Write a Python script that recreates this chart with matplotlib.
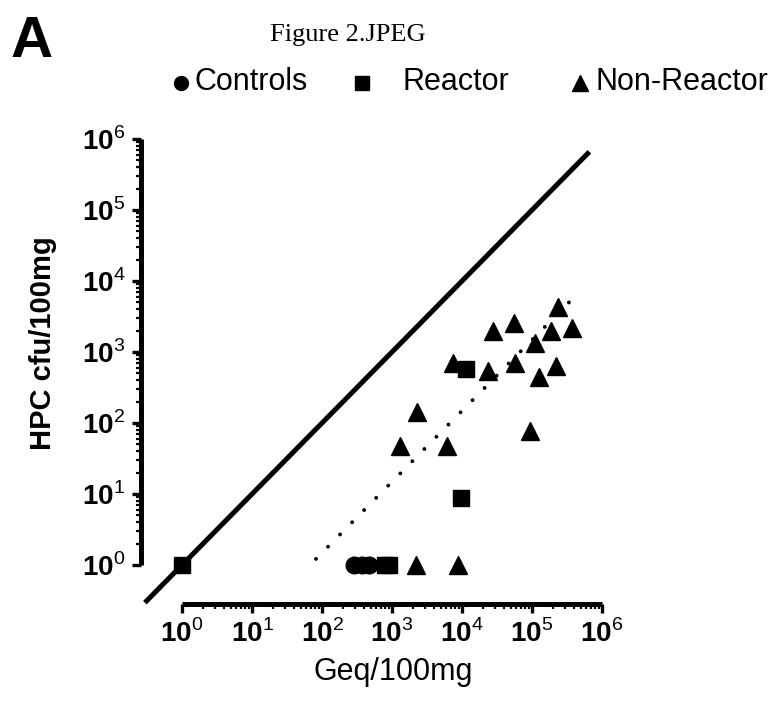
import matplotlib
matplotlib.use("Agg")
import matplotlib.pyplot as plt
from matplotlib.lines import Line2D
from matplotlib.ticker import FixedLocator, NullFormatter

plt.rcParams['font.family'] = ['Liberation Sans', 'DejaVu Sans']
plt.rcParams['mathtext.fontset'] = 'custom'
plt.rcParams['mathtext.rm'] = 'Liberation Sans'
plt.rcParams['mathtext.bf'] = 'Liberation Sans:bold'

# ---- data ----
controls_x = [287, 373, 469]
controls_y = [1, 1, 1]

reactor_x = [1, 807, 906, 9800, 11300]
reactor_y = [1, 1, 1, 8.8, 575]

nonreactor_x = [1280, 6040, 2310, 2220, 8630, 93600, 7510, 23300, 56600,
                125000, 218000, 27500, 55300, 111000, 189000, 373000, 238000]
nonreactor_y = [47.7, 47, 141, 1, 1, 76, 700, 533, 707,
                443, 641, 1995, 2590, 1350, 1950, 2150, 4240]

identity_x = [0.295, 6.6e5]
identity_y = [0.295, 6.6e5]

fit_x = [82, 426000]
fit_y = [1.22, 6310]

tick_exponents = [0, 1, 2, 3, 4, 5, 6]
legend_labels = ['Controls', 'Reactor', 'Non-Reactor']

W, H = 778, 702
fig = plt.figure(figsize=(W / 100, H / 100), dpi=100)

def fx(px):
    return px / W

def fy(py):
    return 1 - py / H

# axes box in pixels: left 141, right 602, top 139, bottom 604
ax = fig.add_axes([fx(141), fy(604), (602 - 141) / W, (604 - 139) / H])
ax.set_xscale('log')
ax.set_yscale('log')
ax.set_xlim(10 ** -0.586, 1e6)
ax.set_ylim(10 ** -0.549, 1e6)

ax.plot(identity_x, identity_y, color='black', lw=3.6, solid_capstyle='butt',
        clip_on=False, zorder=2)
ax.plot(fit_x, fit_y, color='black', lw=2.8, linestyle=(0, (0.01, 4.4)),
        dash_capstyle='round', clip_on=False, zorder=2)

ax.plot(controls_x, controls_y, 'o', color='black', ms=12, clip_on=False, zorder=3)
ax.plot(reactor_x, reactor_y, 's', color='black', ms=12, clip_on=False, zorder=3)
ax.plot(nonreactor_x, nonreactor_y, '^', color='black', ms=12.5, clip_on=False, zorder=3)

for side in ['top', 'right']:
    ax.spines[side].set_visible(False)
for side in ['left', 'bottom']:
    ax.spines[side].set_linewidth(3.6)
    ax.spines[side].set_bounds(1, 1e6)
    ax.spines[side].set_capstyle('butt')

major = [10.0 ** e for e in tick_exponents]
minor = [m * 10.0 ** e for e in tick_exponents[:-1] for m in range(2, 10)]
labels = [r'$\mathbf{10}^{\mathrm{%d}}$' % e for e in tick_exponents]
for axis in (ax.xaxis, ax.yaxis):
    axis.set_major_locator(FixedLocator(major))
    axis.set_minor_locator(FixedLocator(minor))
    axis.set_minor_formatter(NullFormatter())
ax.set_xticks(major, labels)
ax.set_yticks(major, labels)
ax.tick_params(which='major', length=6.5, width=2.4, labelsize=20, pad=5, color='black')
ax.tick_params(which='minor', length=3.5, width=1.6, color='black')
for lab in ax.get_xticklabels() + ax.get_yticklabels():
    lab.set_fontweight('bold')

ax.set_xlabel('Geq/100mg', fontsize=22, va='center')
ax.xaxis.set_label_coords((393 - 141) / 461, (604 - 672) / 465)
ax.set_ylabel('HPC cfu/100mg', fontsize=21, fontweight='bold', va='center')
ax.yaxis.set_label_coords((43 - 141) / 461, (604 - 343) / 465)

# panel letter and title
fig.text(fx(11), fy(56.7), 'A', fontsize=42, fontweight='bold', ha='left', va='baseline')
fig.text(fx(270), fy(41), 'Figure 2.JPEG', fontsize=19, family=['Liberation Serif', 'DejaVu Serif'],
         ha='left', va='baseline')

# legend
leg_markers = ['o', 's', '^']
leg_marker_x = [181, 362, 580]
leg_text_x = [195, 403, 595]
leg_ms = [10, 10.5, 11]
for m, mx, tx, ms, lab in zip(leg_markers, leg_marker_x, leg_text_x, leg_ms, legend_labels):
    fig.add_artist(Line2D([fx(mx)], [fy(83)], marker=m, color='black', ms=ms,
                          linestyle='none', transform=fig.transFigure))
    fig.text(fx(tx), fy(82), lab, fontsize=22, ha='left', va='center')

fig.savefig('out.png', dpi=100)
